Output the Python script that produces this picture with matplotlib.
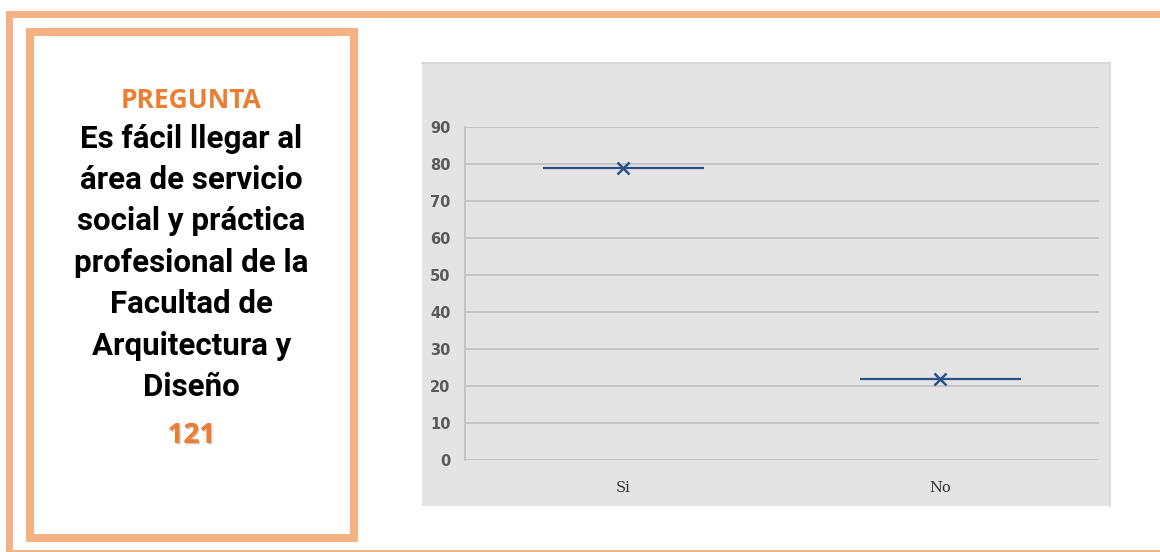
import numpy as np
import matplotlib.pyplot as plt
from matplotlib.patches import Rectangle
import matplotlib.patheffects as pe

# Datos del gráfico
categorias = ['Si', 'No']
porcentajes = [79, 22]
y_ticks = list(range(0, 100, 10))

pregunta = 'PREGUNTA'
lineas_texto = ['Es fácil llegar al', 'área de servicio', 'social y práctica',
                'profesional de la', 'Facultad de', 'Arquitectura y', 'Diseño']
total = '121'

naranja = '#F4B183'
naranja_texto = '#ED7D31'
azul = '#2B5286'

W, H = 1160, 552
fig = plt.figure(figsize=(W / 100, H / 100), dpi=100)

# capa de fondo en pixeles para marcos y textos
bg = fig.add_axes([0, 0, 1, 1])
bg.set_xlim(0, W)
bg.set_ylim(H, 0)
bg.axis('off')

# marco exterior
bg.add_patch(Rectangle((6, 11), W - 6, 7, color=naranja, lw=0))
bg.add_patch(Rectangle((6, 11), 7, H - 11, color=naranja, lw=0))
bg.add_patch(Rectangle((13, 550), W - 13, 1.5, color=naranja, lw=0))

# recuadro de la pregunta
bg.add_patch(Rectangle((29.5, 32), 324, 505.5, fill=False, ec=naranja, lw=5.8))

# fondo gris del grafico
bg.add_patch(Rectangle((422, 62), 688, 444, color='#E4E4E4', lw=0))
bg.plot([422, 1110], [62.5, 62.5], color='#D6D6D6', lw=1.2)
bg.plot([1110, 1110], [62, 506], color='#D9D9D9', lw=1.2)

cx = 191.5
bg.text(cx, 108.5, pregunta, ha='center', va='baseline', color=naranja_texto,
        fontsize=19, fontweight='bold', family='Open Sans')
for i, linea in enumerate(lineas_texto):
    bg.text(cx, 147.7 + i * 41.4, linea, ha='center', va='baseline', color='black',
            fontsize=22.5, fontweight='bold', family='Roboto')
bg.text(cx, 443, total, ha='center', va='baseline', color=naranja_texto,
        fontsize=20, fontweight='bold', family='Open Sans',
        path_effects=[pe.withSimplePatchShadow(offset=(1, -1), shadow_rgbFace='#999999', alpha=0.5), pe.Normal()])

# grafico
ax = fig.add_axes([464.5 / W, (H - 460) / H, 634.5 / W, 333 / H])
ax.set_facecolor('#E4E4E4')
x = np.arange(len(categorias))
ax.set_xlim(-0.5, len(categorias) - 0.5)
ax.set_ylim(0, 90)
ax.set_yticks(y_ticks)
ax.yaxis.grid(True, color='#C4C4C4', lw=1.4)
ax.set_axisbelow(True)
for s in ['top', 'right', 'bottom']:
    ax.spines[s].set_visible(False)
ax.spines['left'].set_color('#C4C4C4')
ax.spines['left'].set_linewidth(1.4)
ax.tick_params(length=0)
ax.tick_params(axis='y', pad=10, labelsize=10.5, labelcolor='#595959')
ax.tick_params(axis='x', pad=15, labelsize=10.5, labelcolor='#333333')
for t in ax.get_yticklabels():
    t.set_fontweight('bold')
ax.set_xticks(x)
ax.set_xticklabels(categorias, family='DejaVu Serif')

ax.errorbar(x, porcentajes, xerr=0.254, fmt='x', color=azul, ecolor=azul,
            elinewidth=1.6, capsize=0, markersize=9, mew=1.8, clip_on=False)

fig.savefig('out.png', dpi=100)
